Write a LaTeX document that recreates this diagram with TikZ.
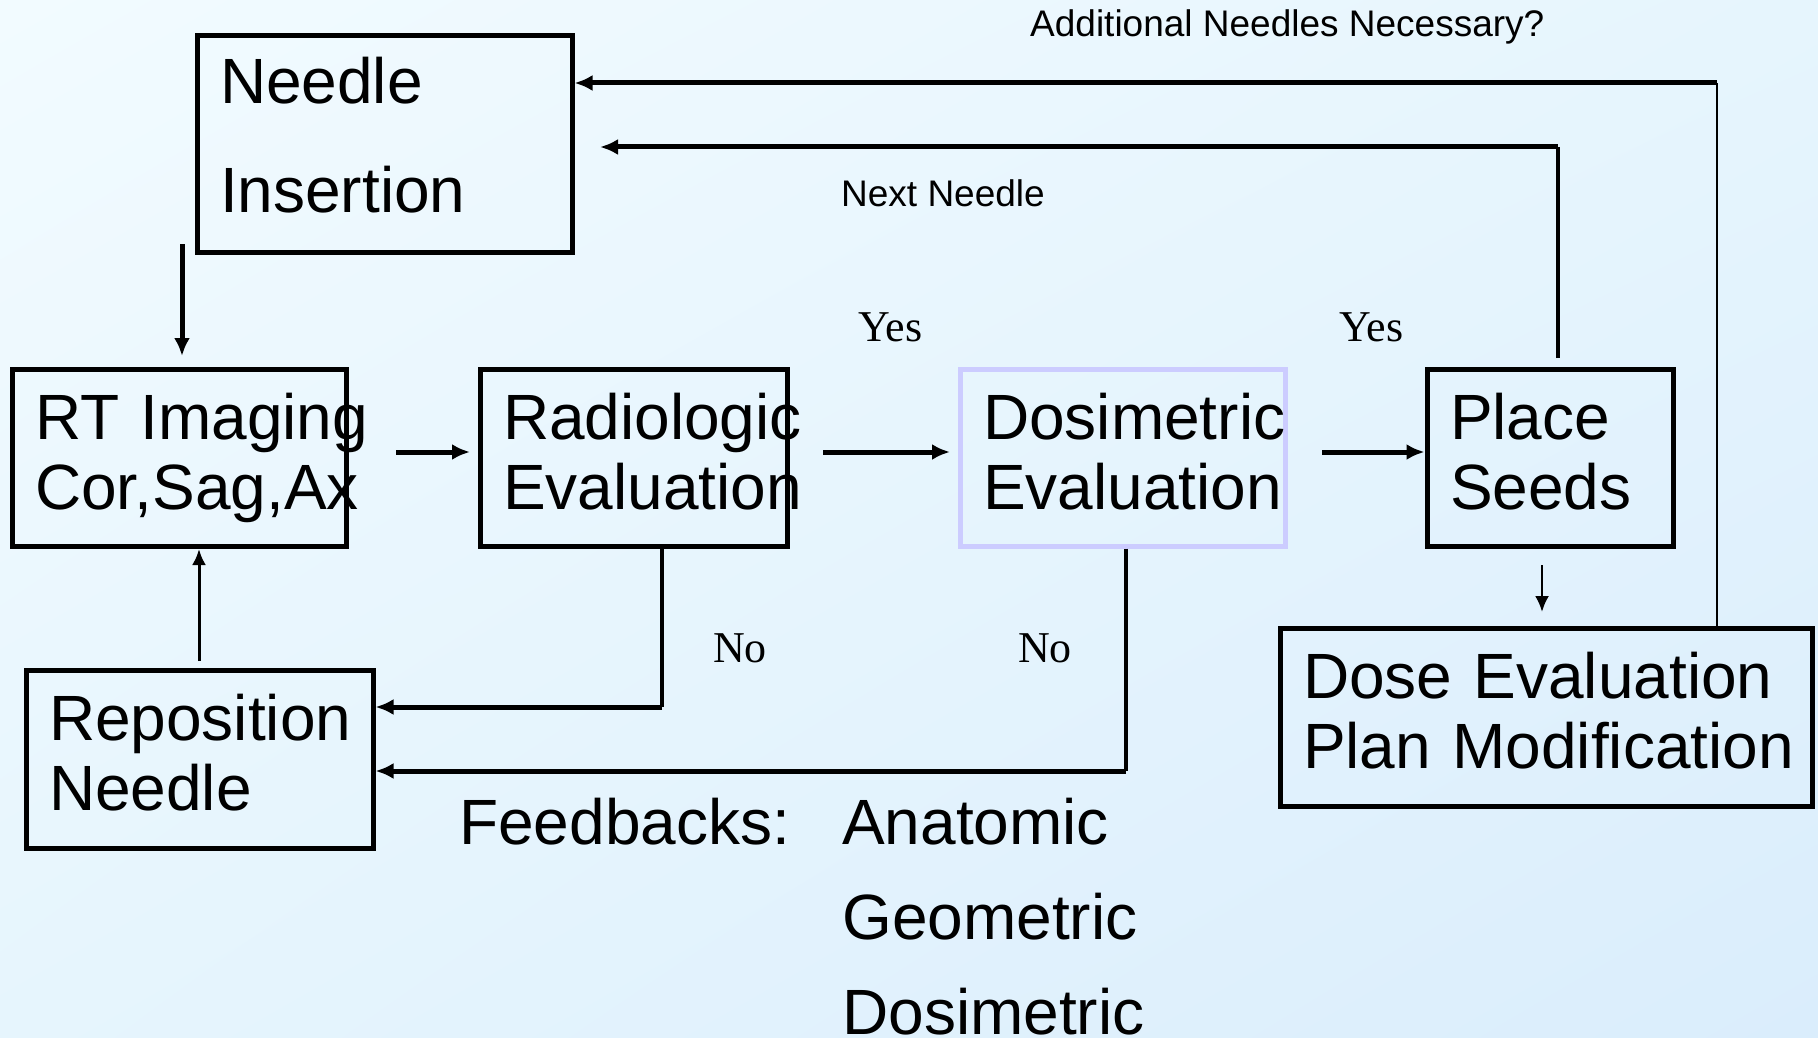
\documentclass[tikz,border=0pt]{standalone}
\usepackage{fontspec}
\setmainfont{Liberation Sans}
\newfontfamily\timesf{Liberation Serif}
\usetikzlibrary{arrows.meta,shadings}
\definecolor{bgA}{RGB}{242,251,255}
\definecolor{bgM}{RGB}{230,245,253}
\definecolor{bgB}{RGB}{218,237,252}
\definecolor{lav}{RGB}{204,204,255}
\tikzset{
  box/.style={draw=black, line width=5pt, inner ysep=0pt, inner xsep=23pt, minimum height=177pt,
    align=left, font=\fontsize{64}{70}\selectfont, anchor=center, text height=49pt, text depth=86pt},
  thickarr/.style={line width=5pt, -{Latex[length=18pt,width=16pt]}},
  thinarr/.style={line width=2.5pt, -{Latex[length=16pt,width=14pt]}},
  smalltxt/.style={font=\fontsize{37}{40}\selectfont, anchor=base west, inner sep=0pt},
  yntxt/.style={font=\timesf\fontsize{44}{48}\selectfont, anchor=base west, inner sep=0pt},
  bigtxt/.style={font=\fontsize{64}{70}\selectfont, anchor=base west, inner sep=0pt},
}
\begin{document}
\begin{tikzpicture}[x=1pt,y=-1pt]
\useasboundingbox (0,0) rectangle (1818,1038);
\shade[upper left=bgA, upper right=bgM, lower left=bgM, lower right=bgB] (0,0) rectangle (1818,1038);

% boxes
\node[box, text width=329pt, minimum height=216pt, font=\fontsize{64}{109}\selectfont, text depth=129pt] (ni) at (384.5,144) {\mbox{Needle}\\\mbox{Insertion}};
\node[box, text width=288pt] (rt) at (179,457.5) {\mbox{RT Imaging}\\\mbox{Cor,Sag,Ax}};
\node[box, text width=261pt] (ra) at (633.5,457.5) {\mbox{Radiologic}\\\mbox{Evaluation}};
\node[box, draw=lav, text width=279pt] (de) at (1122.5,457.5) {\mbox{Dosimetric}\\\mbox{Evaluation}};
\node[box, text width=200pt] (ps) at (1550,457.5) {\mbox{Place}\\\mbox{Seeds}};
\node[box, text width=486pt, minimum height=178pt] (dv) at (1546,717) {\mbox{Dose Evaluation}\\\mbox{Plan Modification}};
\node[box, text width=301pt, minimum height=178pt] (rn) at (199.5,759) {\mbox{Reposition}\\\mbox{Needle}};

% free-end coordinates
\coordinate (c1a) at (182,244);
\coordinate (c1b) at (182,356);
\coordinate (c2a) at (396,452);
\coordinate (c2b) at (470,452);
\coordinate (c3a) at (823,452);
\coordinate (c3b) at (950,452);
\coordinate (c4a) at (1322,452);
\coordinate (c5a) at (1542,565);
\coordinate (c5b) at (1542,612);
\coordinate (c6a) at (199,661);
\coordinate (c6b) at (199,549);
\coordinate (c7) at (662,707);
\coordinate (c8) at (1126,771);
\coordinate (c9a) at (1558,358);
\coordinate (c9b) at (1558,147);
\coordinate (c9c) at (600,147);
\coordinate (c10b) at (1717,83);

% connectors
\draw[thickarr] (c1a) -- (c1b);
\draw[thickarr] (c2a) -- (c2b);
\draw[thickarr] (c3a) -- (c3b);
\draw[thickarr] (c4a) -- (ps.west |- c4a);
\draw[thinarr] (c5a) -- (c5b);
\draw[thinarr, line width=3pt] (c6a) -- (c6b);
\draw[line width=4.5pt] (ra.south -| c7) -- (c7);
\draw[thickarr] (c7) -- (rn.east |- c7);
\draw[line width=4.5pt] (de.south -| c8) -- (c8);
\draw[thickarr] (c8) -- (rn.east |- c8);
\draw[line width=4.5pt] (c9a) -- (c9b);
\draw[thickarr] (c9b) -- (c9c);
\draw[line width=2.5pt] (dv.north -| c10b) -- (c10b);
\draw[thickarr] (c10b) -- (ni.east |- c10b);

% labels
\node[smalltxt] (lab1) at (1030,37) {Additional Needles Necessary?};
\node[smalltxt] (lab2) at (841,206) {Next Needle};
\node[yntxt] (y1) at (858,341) {Yes};
\node[yntxt] (y2) at (1339,341) {Yes};
\node[yntxt] (n1) at (713,662) {No};
\node[yntxt] (n2) at (1018,662) {No};
\node[bigtxt] (fb) at (459,844) {Feedbacks:};
\node[bigtxt] (f1) at (842,844) {Anatomic};
\node[bigtxt] (f2) at (842,939) {Geometric};
\node[bigtxt] (f3) at (842,1034) {Dosimetric};
\end{tikzpicture}
\end{document}
